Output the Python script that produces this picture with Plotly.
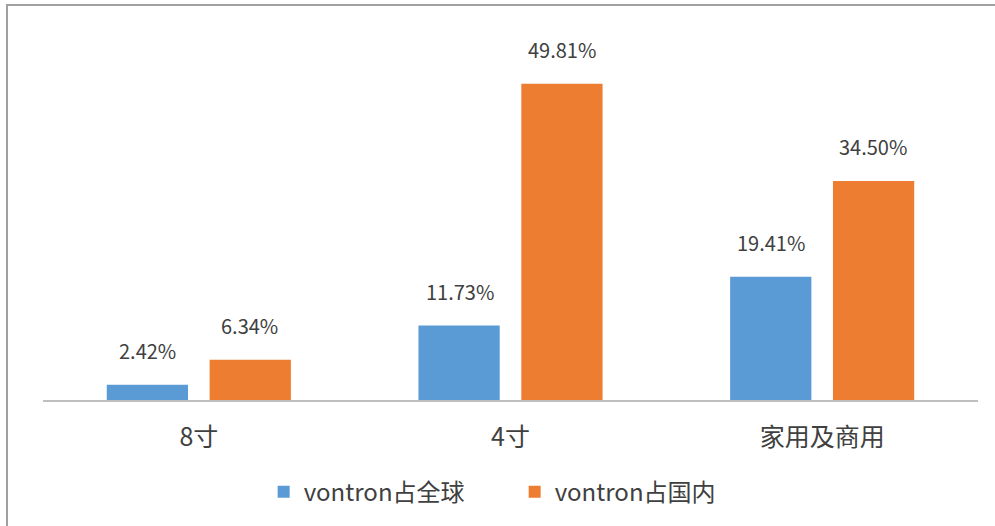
import plotly.graph_objects as go

categories = ["8寸", "4寸", "家用及商用"]
series_names = ["vontron占全球", "vontron占国内"]
global_share = [2.42, 11.73, 19.41]
domestic_share = [6.34, 49.81, 34.50]
colors = ["#5B9BD5", "#ED7D31"]

FONT = "Noto Sans CJK SC, Microsoft YaHei, sans-serif"
TXT = "#404040"

fig = go.Figure()
series = [global_share, domestic_share]
for name, vals, col in zip(series_names, series, colors):
    fig.add_trace(go.Bar(
        x=categories, y=vals, name=name, marker=dict(color=col, line=dict(width=0)),
        hoverinfo="x+y",
    ))

# data labels above bars
for i, vals in enumerate(series):
    for cat, v in zip(categories, vals):
        fig.add_annotation(x=cat, y=v, text=f"{v:.2f}%", showarrow=False,
                           xshift=(-51 if i == 0 else 51), yshift=18, yanchor="bottom",
                           font=dict(family=FONT, size=20, color=TXT))

fig.update_layout(
    width=995, height=526,
    margin=dict(l=43, r=17, t=19, b=125),
    paper_bgcolor="white", plot_bgcolor="white",
    barmode="group", bargap=0.34, bargroupgap=0.21,
    font=dict(family=FONT, color=TXT),
    legend=dict(orientation="h", x=0.236, xanchor="left", y=-0.18, yanchor="top",
                font=dict(family=FONT, size=24, color=TXT), itemwidth=30,
                entrywidth=206),
    xaxis=dict(showline=True, linecolor="#BFBFBF", linewidth=2, ticks="",
               tickfont=dict(family=FONT, size=25, color=TXT), ticklabelstandoff=14,
               showgrid=False, zeroline=False),
    yaxis=dict(range=[0, 60], visible=False, showgrid=False, zeroline=False),
)
fig.add_shape(type="rect", xref="paper", yref="paper", x0=-0.0385, x1=1.1, y0=-0.5, y1=1.0366,
              line=dict(color="#A0A0A0", width=2), fillcolor="rgba(0,0,0,0)", layer="above")

fig.write_html("out.html", config={"displayModeBar": False},
               post_script="document.body.style.margin='0';document.body.style.padding='0';")
